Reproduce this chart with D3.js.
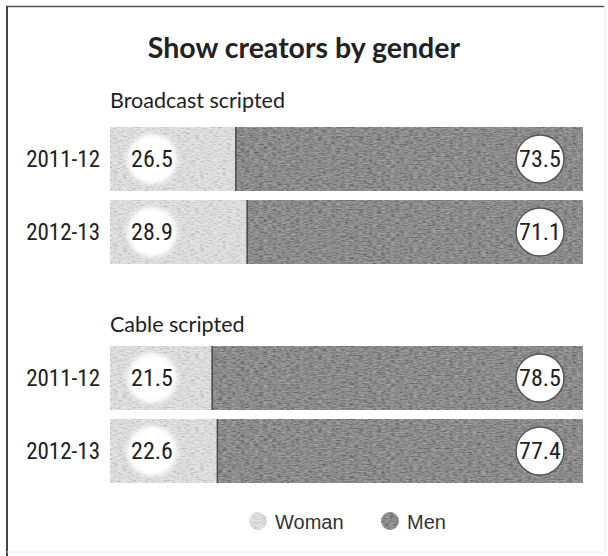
<!DOCTYPE html>
<html>
<head>
<meta charset="utf-8">
<script src="https://cdn.jsdelivr.net/npm/d3@7"></script>
<style>
  html, body { margin: 0; padding: 0; background: #fff; }
  svg { display: block; }
</style>
</head>
<body>
<svg id="chart" width="608" height="556"></svg>
<script>
// Share of show creators by gender (%)
const seasons = ["2011-12", "2012-13"];
const groupTitles = ["Broadcast scripted", "Cable scripted"];
const broadcastWoman = [26.5, 28.9];
const broadcastMen = [73.5, 71.1];
const cableWoman = [21.5, 22.6];
const cableMen = [78.5, 77.4];
const legendLabels = ["Woman", "Men"];

const groups = [
  { title: groupTitles[0], woman: broadcastWoman, men: broadcastMen, top: 127, bottom: 264, titleY: 108 },
  { title: groupTitles[1], woman: cableWoman, men: cableMen, top: 346, bottom: 483, titleY: 332 }
];

const W = 608, H = 556;
const svg = d3.select("#chart");

const narrow = "'Liberation Sans Narrow', 'Arial Narrow', 'Roboto Condensed', 'DejaVu Sans Condensed', sans-serif";
const humanist = "Lato, 'Open Sans', sans-serif";

// grain filter for the stippled bar fills: streaky noise, lighter and darker flecks
const defs = svg.append("defs");
function grain(id, seed, dark, light) {
  const f = defs.append("filter").attr("id", id)
    .attr("x", 0).attr("y", 0).attr("width", 1).attr("height", 1)
    .attr("color-interpolation-filters", "sRGB");
  f.append("feTurbulence").attr("type", "fractalNoise")
    .attr("baseFrequency", "0.22 0.75").attr("numOctaves", 3).attr("seed", seed).attr("result", "noise");
  f.append("feColorMatrix").attr("in", "noise").attr("type", "matrix")
    .attr("values", `0 0 0 0 0  0 0 0 0 0  0 0 0 0 0  ${dark} 0 0 0 ${-dark * 0.5}`)
    .attr("result", "dk");
  f.append("feComposite").attr("in", "dk").attr("in2", "SourceGraphic").attr("operator", "in").attr("result", "dkIn");
  f.append("feColorMatrix").attr("in", "noise").attr("type", "matrix")
    .attr("values", `0 0 0 0 1  0 0 0 0 1  0 0 0 0 1  ${-light} 0 0 0 ${light * 0.5}`)
    .attr("result", "lt");
  f.append("feComposite").attr("in", "lt").attr("in2", "SourceGraphic").attr("operator", "in").attr("result", "ltIn");
  const m = f.append("feMerge");
  m.append("feMergeNode").attr("in", "SourceGraphic");
  m.append("feMergeNode").attr("in", "dkIn");
  m.append("feMergeNode").attr("in", "ltIn");
}
grain("grainMen", 4, 0.9, 0.7);
grain("grainWoman", 9, 0.5, 1.0);

defs.append("filter").attr("id", "soft")
  .attr("x", -0.3).attr("y", -0.3).attr("width", 1.6).attr("height", 1.6)
  .append("feGaussianBlur").attr("stdDeviation", 2.2);

const womanFill = "#dedede";
const menFill = "#8c8c8c";

// frame
svg.append("rect").attr("width", W).attr("height", H).attr("fill", "#fff");
svg.append("line").attr("x1", 6).attr("x2", 604).attr("y1", 6.5).attr("y2", 6.5)
  .attr("stroke", "#555").attr("stroke-width", 1.5);
svg.append("line").attr("x1", 7).attr("x2", 7).attr("y1", 6).attr("y2", H)
  .attr("stroke", "#444").attr("stroke-width", 2);
svg.append("line").attr("x1", 605).attr("x2", 605).attr("y1", 6).attr("y2", 552)
  .attr("stroke", "#ececec").attr("stroke-width", 1);
svg.append("line").attr("x1", 7).attr("x2", 605).attr("y1", 552).attr("y2", 552)
  .attr("stroke", "#eeeeee").attr("stroke-width", 1);

// title
svg.append("text").attr("x", 304).attr("y", 58).attr("text-anchor", "middle")
  .attr("font-family", humanist).attr("font-weight", 700).attr("font-size", 28.5)
  .attr("fill", "#222").text("Show creators by gender");

const x = d3.scaleLinear().domain([0, 100]).range([110, 583]);

groups.forEach(g => {
  const y = d3.scaleBand().domain(seasons).range([g.top, g.bottom]).paddingInner(9 / 73);
  const bh = y.bandwidth();

  svg.append("text").attr("x", 110).attr("y", g.titleY)
    .attr("font-family", humanist).attr("font-size", 21.5).attr("fill", "#222").text(g.title);

  const rows = svg.append("g").selectAll("g").data(seasons).join("g")
    .attr("transform", s => `translate(0,${y(s)})`);

  // woman segment
  rows.append("rect")
    .attr("x", x(0)).attr("y", 0)
    .attr("width", (s, i) => x(g.woman[i]) - x(0)).attr("height", bh)
    .attr("fill", womanFill).attr("filter", "url(#grainWoman)");
  // men segment
  rows.append("rect")
    .attr("x", (s, i) => x(g.woman[i])).attr("y", 0)
    .attr("width", (s, i) => x(g.woman[i] + g.men[i]) - x(g.woman[i])).attr("height", bh)
    .attr("fill", menFill).attr("filter", "url(#grainMen)");
  // dark seam between segments
  rows.append("line")
    .attr("x1", (s, i) => x(g.woman[i]) + 0.5).attr("x2", (s, i) => x(g.woman[i]) + 0.5)
    .attr("y1", 0).attr("y2", bh).attr("stroke", "#4a4a4a").attr("stroke-width", 1.5);

  // season labels
  rows.append("text").attr("x", 100).attr("y", bh / 2 + 8).attr("text-anchor", "end")
    .attr("font-family", narrow).attr("font-size", 23).attr("fill", "#222").text(s => s);

  // woman value bubble
  rows.append("circle").attr("cx", x(0) + 42).attr("cy", bh / 2).attr("r", 25)
    .attr("fill", "#fff").attr("filter", "url(#soft)");
  rows.append("text").attr("x", x(0) + 42).attr("y", bh / 2 + 8).attr("text-anchor", "middle")
    .attr("font-family", narrow).attr("font-size", 24).attr("fill", "#222")
    .text((s, i) => g.woman[i].toFixed(1));

  // men value bubble
  rows.append("circle").attr("cx", (s, i) => x(g.woman[i] + g.men[i]) - 43).attr("cy", bh / 2).attr("r", 24)
    .attr("fill", "#fff").attr("stroke", "#555").attr("stroke-width", 1.5);
  rows.append("text").attr("x", (s, i) => x(g.woman[i] + g.men[i]) - 43).attr("y", bh / 2 + 8)
    .attr("text-anchor", "middle")
    .attr("font-family", narrow).attr("font-size", 24).attr("fill", "#222")
    .text((s, i) => g.men[i].toFixed(1));
});

// legend
const legendX = [258, 390];
const legendFills = [womanFill, menFill];
const legendFilters = ["url(#grainWoman)", "url(#grainMen)"];
const leg = svg.append("g").selectAll("g").data(legendLabels).join("g")
  .attr("transform", (d, i) => `translate(${legendX[i]},521)`);
leg.append("circle").attr("r", 9)
  .attr("fill", (d, i) => legendFills[i]).attr("filter", (d, i) => legendFilters[i]);
leg.append("text").attr("x", 17).attr("y", 8)
  .attr("font-family", "'Liberation Sans', Arial, sans-serif").attr("font-size", 20)
  .attr("fill", "#333").text(d => d);
</script>
</body>
</html>
